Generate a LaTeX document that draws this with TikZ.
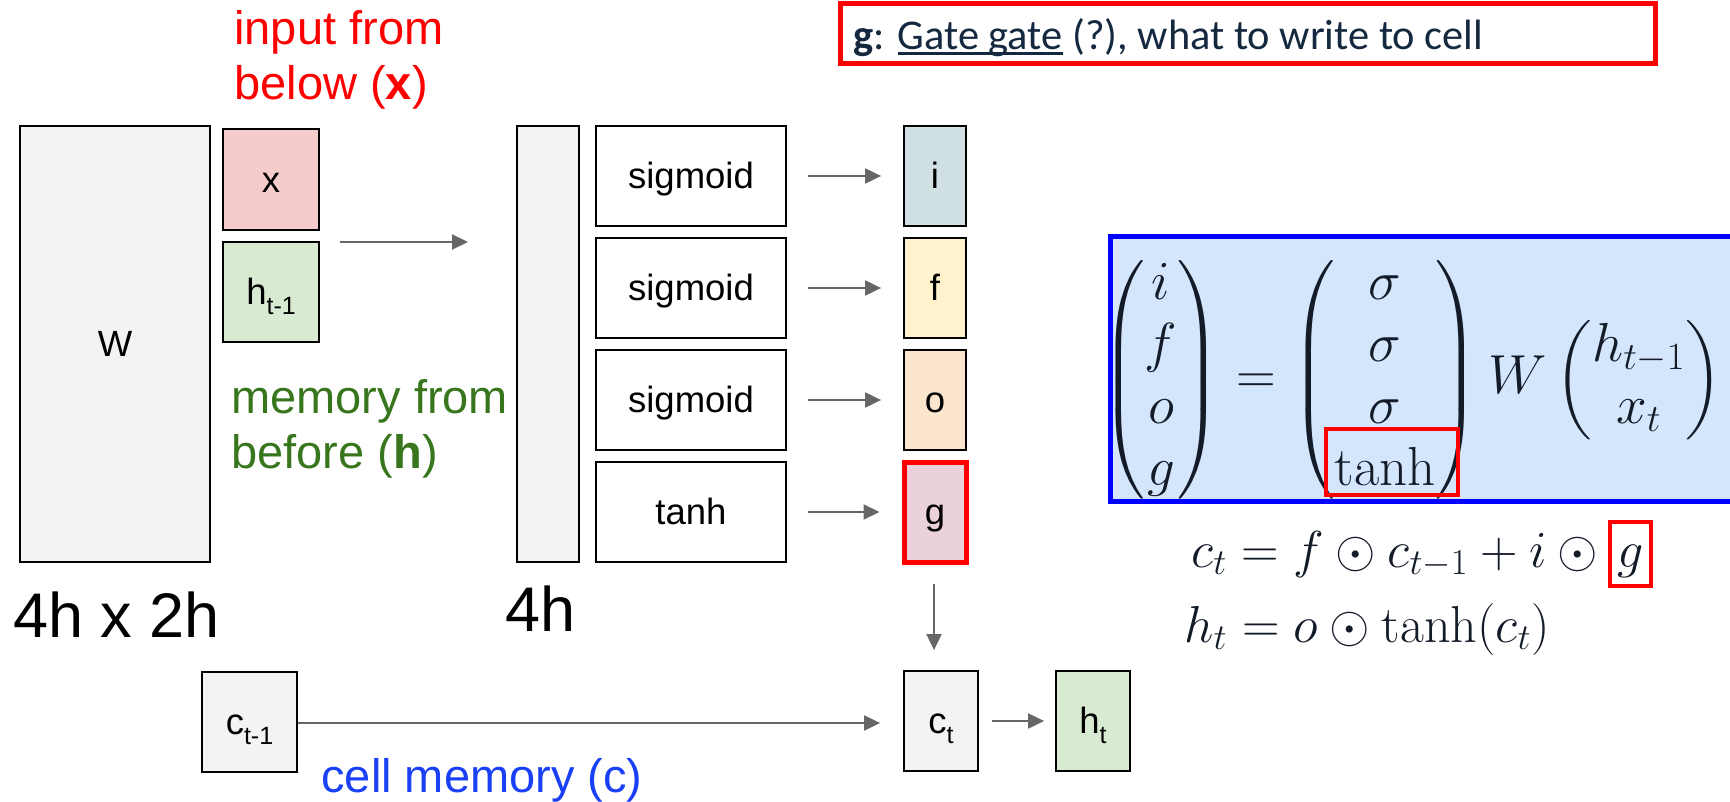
\RequirePackage{fix-cm}
\documentclass[tikz,border=0pt]{standalone}
\usepackage{fontspec}
\usepackage{amsmath}
\usetikzlibrary{arrows.meta}
\newfontfamily\arialf{Liberation Sans}
\newfontfamily\calibf{Carlito}
\definecolor{cgrey}{HTML}{F3F3F3}
\definecolor{cpink}{HTML}{F4CCCC}
\definecolor{cgreen}{HTML}{D9EAD3}
\definecolor{cgi}{HTML}{D0E0E3}
\definecolor{cgf}{HTML}{FFF2CC}
\definecolor{cgo}{HTML}{FCE5CD}
\definecolor{cgg}{HTML}{EAD1DC}
\definecolor{arrowgray}{HTML}{666666}
\definecolor{memgreen}{HTML}{38761D}
\definecolor{cellblue}{HTML}{1A40F5}
\definecolor{navy}{HTML}{14283F}
\definecolor{eqink}{HTML}{131A28}
\definecolor{eqfill}{HTML}{D4E6FC}
% lowered subscript for the box labels
\newcommand\lowsub[1]{\raisebox{-0.27em}{\fontsize{12.5pt}{12.5pt}\selectfont #1}}
% underline drawn under the baseline, crossing descenders
\newcommand\ulbar[1]{\setbox0\hbox{#1}\rlap{\rule[-0.11em]{\wd0}{0.07em}}\box0\relax}
\begin{document}
\begin{tikzpicture}[x=0.5pt,y=-0.5pt,
  lab/.style={font=\arialf\fontsize{18.25}{22}\selectfont, text height=16.4pt, text depth=3.6pt, inner sep=0pt},
  box/.style={lab, draw=black, line width=0.9pt, rectangle},
  conn/.style={draw=arrowgray, line width=1pt, -{Triangle[length=8pt,width=7.5pt]}},
  big/.style={font=\arialf\fontsize{23.5}{27.5}\selectfont, inner sep=0pt, anchor=base west, align=left},
  huge/.style={font=\arialf\fontsize{31.5}{36}\selectfont, inner sep=0pt, anchor=base west},
  eqfont/.style={font=\fontsize{26}{31}\selectfont, inner sep=0pt, text=eqink},
  hl/.style={draw=red, line width=2pt},
]
\useasboundingbox (0,0) rectangle (1730,802);

% weight matrix and its inputs
\node[box, fill=cgrey, minimum width=95pt, minimum height=218pt] (W) at (115,344) {W};
\node[box, fill=cpink, minimum width=48pt, minimum height=50.5pt] (x) at (271,179.5) {x};
\node[box, fill=cgreen, minimum width=48pt, minimum height=50pt] (h) at (271,292) {h\lowsub{t-1}};
\node[big, text=red] (inlab) at (234,100) {input from\\below (\textbf{x})};
\node[big, text=memgreen] (memlab) at (231,468) {memory from\\before (\textbf{h})};
\node[huge] (dimW) at (13,637) {4h x 2h};

% product vector
\node[box, fill=cgrey, minimum width=31pt, minimum height=218pt] (bar) at (548,344) {};
\node[huge] (dimbar) at (505,631) {4h};
\coordinate (inA) at (340,242);
\coordinate (inB) at (468,242);
\draw[conn] (inA) -- (inB);

% nonlinearities and gates
\node[box, fill=white, minimum width=95pt, minimum height=50pt] (s1) at (691,176) {sigmoid};
\node[box, fill=white, minimum width=95pt, minimum height=50pt] (s2) at (691,288) {sigmoid};
\node[box, fill=white, minimum width=95pt, minimum height=50pt] (s3) at (691,400) {sigmoid};
\node[box, fill=white, minimum width=95pt, minimum height=50pt] (s4) at (691,512) {tanh};
\node[box, fill=cgi, minimum width=31pt, minimum height=50pt] (gi) at (935,176) {i};
\node[box, fill=cgf, minimum width=31pt, minimum height=50pt] (gf) at (935,288) {f};
\node[box, fill=cgo, minimum width=31pt, minimum height=50pt] (go) at (935,400) {o};
\node[box, fill=cgg, draw=red, line width=2.5pt, minimum width=31pt, minimum height=50pt] (gg) at (935,512) {g};
\foreach \a/\b in {s1/gi, s2/gf, s3/go, s4/gg}
  \draw[conn, shorten <=10.5pt, shorten >=11pt] (\a.east) -- (\b.west);

% cell state
\node[box, fill=cgrey, minimum width=47.5pt, minimum height=50pt] (cprev) at (249.5,722) {c\lowsub{t-1}};
\node[box, fill=cgrey, minimum width=37pt, minimum height=50pt] (ct) at (941,721) {c\lowsub{t}};
\node[box, fill=cgreen, minimum width=37pt, minimum height=50pt] (ht) at (1093,721) {h\lowsub{t}};
\node[big, text=cellblue] (celllab) at (321,792) {cell memory (c)};
\draw[conn, shorten <=9.5pt, shorten >=10pt] (gg.south -| 934,0) -- (ct.north -| 934,0);
\draw[conn, shorten >=11.5pt] (cprev.east |- 0,723) -- (ct.west |- 0,723);
\draw[conn, shorten <=6.5pt, shorten >=5.5pt] (ct.east) -- (ht.west);

% caption
\draw[red, line width=2.5pt] (840,4) rectangle (1655,64);
\node[inner sep=0pt, anchor=base west, text=navy, font=\calibf\fontsize{21.2}{25}\selectfont] (cap) at (853,50)
  {\textbf{g}: \ulbar{Gate gate} (?), what to write to cell};

% equations
\fill[eqfill] (1110,237) rectangle (1740,501);
\draw[blue, line width=2.5pt] (1740,237) -- (1110,237) -- (1110,501) -- (1740,501);
\node[eqfont, font=\fontsize{27.5}{31}\selectfont, anchor=west] (eq) at (1101,380)
  {$\begin{pmatrix} i\\ f\\ o\\ g\end{pmatrix} = \begin{pmatrix}\sigma\\ \sigma\\ \sigma\\ \tanh\end{pmatrix} W \begin{pmatrix} h_{t-1}\\ x_t\end{pmatrix}$};
\draw[hl] (1326,429) rectangle (1458,495);
\node[eqfont, anchor=base west] (eqc) at (1191,567)
  {$c_t = f \odot c_{t-1} + i \odot{}$};
\node[eqfont, hl, anchor=base west, text height=14pt, text depth=1pt, minimum width=20.5pt, minimum height=32pt,
  xshift=-1pt] (eqg) at (eqc.base east) {$g$};
\node[eqfont, anchor=base west] (eqh) at (1184,642)
  {$h_t = o \odot \tanh(c_t)$};
\end{tikzpicture}
\end{document}
